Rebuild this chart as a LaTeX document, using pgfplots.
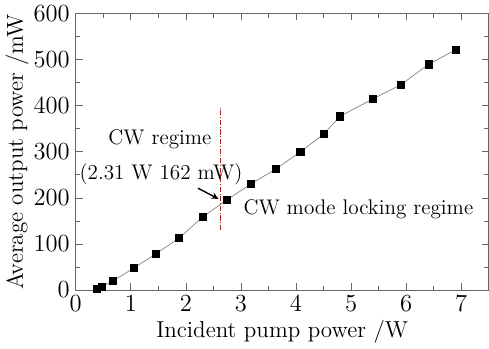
\documentclass[border=0pt]{standalone}
\usepackage{pgfplots}
\pgfplotsset{compat=1.18}
\begin{document}
\begin{tikzpicture}
\begin{axis}[
  scale only axis,
  width=242pt, height=162pt,
  xmin=0, xmax=7.5, ymin=0, ymax=600,
  xtick={0,1,...,7}, ytick={0,100,...,600},
  minor xtick={0.5,1.5,...,7.5}, minor ytick={50,150,...,550},
  tick align=inside,
  major tick length=4pt, minor tick length=2.5pt,
  axis line style={gray!80!black},
  every tick/.style={gray!80!black},
  tick label style={font=\fontsize{14}{16}\selectfont},
  label style={font=\fontsize{13.5}{15}\selectfont},
  xlabel={Incident pump power /W},
  ylabel={Average output power /mW},
  xlabel style={yshift=2pt},
  ylabel style={yshift=-4pt},
  clip=false,
]
\addplot[gray, thin, mark=square*, mark size=2.1pt, mark options={black, fill=black}] coordinates {
(0.39,2) (0.47,6.6) (0.68,20) (1.06,48) (1.45,78) (1.88,113) (2.31,159)
(2.75,196) (3.18,230) (3.64,263) (4.08,300) (4.51,339) (4.80,377)
(5.40,415) (5.91,446) (6.41,490) (6.91,522)
};
\addplot[red, semithick, densely dashdotted, no marks] coordinates {(2.63,130) (2.63,395)};
\node[font=\fontsize{12.4}{14}\selectfont] at (axis cs:1.53,328) {CW regime};
\node[font=\fontsize{12.4}{14}\selectfont] at (axis cs:1.55,252) {(2.31 W 162 mW)};
\node[font=\fontsize{12.4}{14}\selectfont, anchor=west] at (axis cs:2.94,176) {CW mode locking regime};
\draw[-stealth, thick] (axis cs:2.22,221) -- (axis cs:2.59,198);
\end{axis}
\end{tikzpicture}
\end{document}
